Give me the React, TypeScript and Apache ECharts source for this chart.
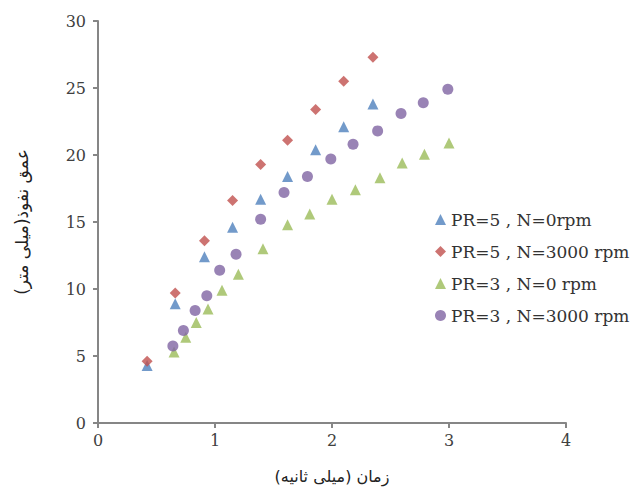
import React, { useEffect, useRef } from "react";
import * as echarts from "echarts";

const xTicks = [0, 1, 2, 3, 4];
const yTicks = [0, 5, 10, 15, 20, 25, 30];

const pr5n0X = [0.42, 0.66, 0.91, 1.15, 1.39, 1.62, 1.86, 2.1, 2.35];
const pr5n0Y = [4.3, 8.9, 12.4, 14.6, 16.7, 18.4, 20.4, 22.1, 23.8];

const pr5n3000X = [0.42, 0.66, 0.91, 1.15, 1.39, 1.62, 1.86, 2.1, 2.35];
const pr5n3000Y = [4.6, 9.7, 13.6, 16.6, 19.3, 21.1, 23.4, 25.5, 27.3];

const pr3n0X = [0.65, 0.75, 0.84, 0.94, 1.06, 1.2, 1.41, 1.62, 1.81, 2.0, 2.2, 2.41, 2.6, 2.79, 3.0];
const pr3n0Y = [5.3, 6.4, 7.5, 8.5, 9.9, 11.1, 13.0, 14.8, 15.6, 16.7, 17.4, 18.3, 19.4, 20.05, 20.9];

const pr3n3000X = [0.64, 0.73, 0.83, 0.93, 1.04, 1.18, 1.39, 1.59, 1.79, 1.99, 2.18, 2.39, 2.59, 2.78, 2.99];
const pr3n3000Y = [5.75, 6.9, 8.4, 9.5, 11.4, 12.6, 15.2, 17.2, 18.4, 19.7, 20.8, 21.8, 23.1, 23.9, 24.9];

const seriesNames = [
  "PR=5 , N=0rpm",
  "PR=5 , N=3000 rpm",
  "PR=3 , N=0 rpm",
  "PR=3 , N=3000 rpm",
];

const xName = "زمان (میلی ثانیه)";
const yName = "عمق نفوذ(میلی متر)";

const zip = (xs: number[], ys: number[]) => xs.map((x, i) => [x, ys[i]]);

export default function App() {
  const ref = useRef<HTMLDivElement>(null);
  useEffect(() => {
    if (!ref.current) return;
    const chart = echarts.init(ref.current, null, { renderer: "svg" });
    const axisLine = { show: true, lineStyle: { color: "#868686", width: 2 } };
    const labelStyle = { color: "#404040", fontFamily: "DejaVu Serif", fontSize: 16 };
    const defs = [
      { name: seriesNames[0], data: zip(pr5n0X, pr5n0Y), symbol: "triangle", color: "#4F81BD", size: 11 },
      { name: seriesNames[1], data: zip(pr5n3000X, pr5n3000Y), symbol: "diamond", color: "#C0504D", size: 11 },
      { name: seriesNames[2], data: zip(pr3n0X, pr3n0Y), symbol: "triangle", color: "#9BBB59", size: 11 },
      { name: seriesNames[3], data: zip(pr3n3000X, pr3n3000Y), symbol: "circle", color: "#8064A2", size: 11 },
    ];
    chart.setOption({
      animation: false,
      backgroundColor: "#ffffff",
      grid: { left: 98, right: 68, top: 21, bottom: 66 },
      xAxis: {
        type: "value",
        min: xTicks[0],
        max: xTicks[xTicks.length - 1],
        interval: 1,
        splitLine: { show: false },
        axisLine,
        axisTick: { show: true, length: 5, lineStyle: { color: "#868686", width: 2 } },
        axisLabel: { ...labelStyle, margin: 9 },
        name: xName,
        nameLocation: "middle",
        nameGap: 45,
        nameTextStyle: { color: "#222", fontFamily: "DejaVu Sans", fontSize: 16 },
      },
      yAxis: {
        type: "value",
        min: yTicks[0],
        max: yTicks[yTicks.length - 1],
        interval: 5,
        splitLine: { show: false },
        axisLine,
        axisTick: { show: true, length: 5, lineStyle: { color: "#868686", width: 2 } },
        axisLabel: { ...labelStyle, margin: 12 },
        name: yName,
        nameLocation: "middle",
        nameRotate: 90,
        nameGap: 68,
        nameTextStyle: { color: "#222", fontFamily: "DejaVu Sans", fontSize: 17 },
      },
      legend: {
        orient: "vertical",
        left: 430,
        top: 206,
        itemWidth: 11,
        itemHeight: 11,
        itemGap: 15,
        textStyle: { color: "#333", fontFamily: "DejaVu Serif", fontSize: 17 },
        data: defs.map((d) => ({ name: d.name, icon: d.symbol })),
      },
      series: defs.map((d) => ({
        type: "scatter",
        name: d.name,
        data: d.data,
        symbol: d.symbol,
        symbolSize: d.size,
        itemStyle: { color: d.color },
      })),
    });
    return () => chart.dispose();
  }, []);
  return <div ref={ref} style={{ width: 634, height: 489, position: "absolute", left: 0, top: 0 }} />;
}
